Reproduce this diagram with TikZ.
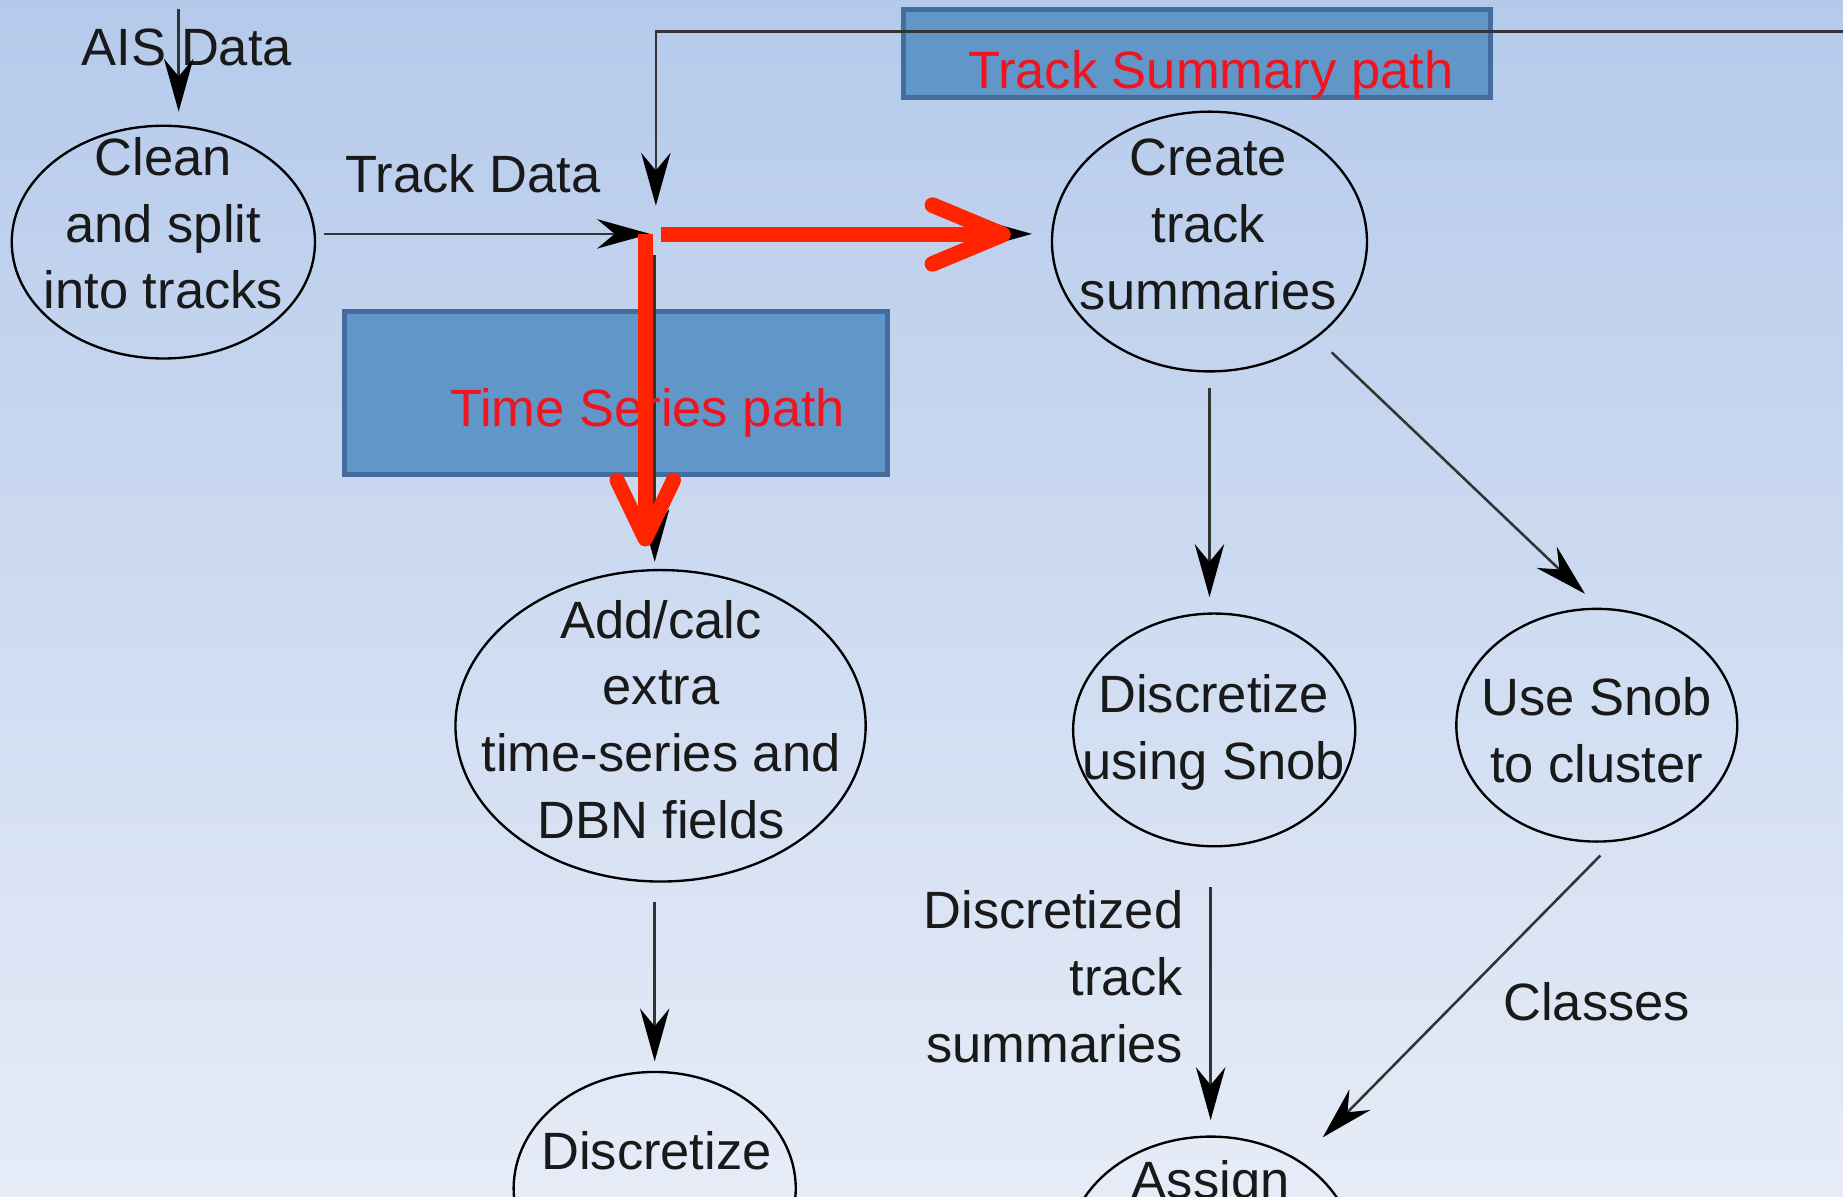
\documentclass[tikz,border=0pt]{standalone}
\usepackage{fontspec}
\setmainfont{Liberation Sans}
\usetikzlibrary{arrows.meta,shapes.geometric}

\definecolor{bgtop}{RGB}{181,202,235}
\definecolor{bgbot}{RGB}{230,236,247}
\definecolor{boxfill}{RGB}{97,150,201}
\definecolor{boxline}{RGB}{68,108,158}
\definecolor{redtext}{RGB}{240,20,30}
\definecolor{redarrow}{RGB}{255,35,0}

\begin{document}
\begin{tikzpicture}[x=0.6pt,y=-0.6pt,
  stage/.style={ellipse, draw=black, line width=1.2pt, inner sep=0pt, outer sep=0pt},
  lbl/.style={font=\fontsize{26.8}{34}\selectfont, align=center, inner sep=0pt, text=black!90},
  flow/.style={draw=black!80, line width=1.3pt, -{Stealth[length=27pt,width=15pt,inset=9pt,color=black]}},
  pathbox/.style={rectangle, fill=boxfill, draw=boxline, line width=2.5pt, inner sep=0pt},
  pathname/.style={font=\fontsize{26.8}{34}\selectfont, text=redtext, inner sep=0pt},
  hot/.style={draw=redarrow, line cap=butt},
]
% canvas
\shade[top color=bgtop, bottom color=bgbot] (0,0) rectangle (1568,1018);
\useasboundingbox (0,0) rectangle (1568,1018);

% highlighted path panels
\node[pathbox, minimum width=299.4pt, minimum height=45pt] (sumbox) at (1018.5,45.5) {};
\node[pathbox, minimum width=277.2pt, minimum height=83.4pt] (tsbox) at (524,334.5) {};

% processing stages
\node[stage, minimum width=154.8pt, minimum height=118.8pt] (clean) at (139,206) {};
\node[stage, minimum width=160.8pt, minimum height=132.6pt] (create) at (1029,205.5) {};
\node[stage, minimum width=209.4pt, minimum height=159pt] (addcalc) at (562,617.5) {};
\node[stage, minimum width=144pt, minimum height=118.8pt] (discsnob) at (1033,621) {};
\node[stage, minimum width=143.4pt, minimum height=118.8pt] (usesnob) at (1358.5,617) {};
\node[stage, minimum width=144pt, minimum height=118.8pt] (disc) at (557,1011) {};
\node[stage, minimum width=146.4pt, minimum height=118.8pt] (assign) at (1030,1066) {};

% stage texts
\node[lbl] (cleanT) at (139,190) {Clean\\and split\\into tracks};
\node[lbl] (createT) at (1028,191) {Create\\track\\summaries};
\node[lbl] (addcalcT) at (562.5,612) {Add/calc\\extra\\time-series and\\DBN fields};
\node[lbl] (discsnobT) at (1032.5,623) {Discretize\\using Snob};
\node[lbl] (usesnobT) at (1358.5,621.5) {Use Snob\\to cluster};
\node[lbl] (discT) at (558.5,979) {Discretize};
\node[lbl] (assignT) at (1030,1008) {Assign};

% data labels
\node[lbl] (aisT) at (159,40) {AIS Data};
\node[lbl] (trackT) at (402.5,148) {Track Data};
\node[lbl, align=right, anchor=east] (dtsT) at (1007,831) {Discretized\\track\\summaries};
\node[lbl] (classT) at (1358.5,852) {Classes};

% free ends of connectors
\coordinate (aisIn) at (152,8);
\coordinate (junc) at (555,199);
\coordinate (feedIn) at (1568,27);
\coordinate (feedTip) at (558,175);

% data flow
\draw[flow, shorten >=7.2pt] (aisIn) -- (aisIn |- clean.north);
\draw[flow, shorten <=4.8pt, shorten >=1.2pt] (clean.east |- junc) -- (junc);
\draw[flow] (feedIn) -| (feedTip);
\draw[flow, shorten <=4.2pt, shorten >=10.2pt] (junc) -- (junc -| create.west);
\draw[flow, shorten <=10.8pt, shorten >=4.2pt] ([xshift=1.2pt]junc) -- ([xshift=1.2pt]junc |- addcalc.north);
\draw[flow, shorten <=8.4pt, shorten >=8.4pt] (create.south) -- (create.south |- discsnob.north);
\draw[flow, shorten <=11.2pt, shorten >=11.2pt] (create.-42) -- (usesnob.88);
\draw[flow, shorten <=21pt, shorten >=8.4pt] (assign.north |- discsnob.south) -- (assign.north);
\draw[flow, shorten <=10.7pt, shorten >=17.2pt] (usesnob.-81) -- (assign.46);
\draw[flow, shorten <=10.2pt, shorten >=5.4pt] (disc.north |- addcalc.south) -- (disc.north);

% path captions
\node[pathname] (sumT) at (1030,63.4) {Track Summary path};
\node[pathname] (tsT) at (551,351) {Time Series path};

% highlighted routes
\coordinate (redStartH) at (562,199.5);
\coordinate (redTipH) at (860,199.5);
\coordinate (redStartV) at (549,199);
\coordinate (redTipV) at (549,465);
\draw[hot, line width=8pt, -{Straight Barb[length=36pt,width=30pt,round]}] (redStartH) -- (redTipH);
\draw[hot, line width=7.7pt, -{Straight Barb[length=30pt,width=28.8pt,round]}] (redStartV) -- (redTipV);
\end{tikzpicture}
\end{document}
